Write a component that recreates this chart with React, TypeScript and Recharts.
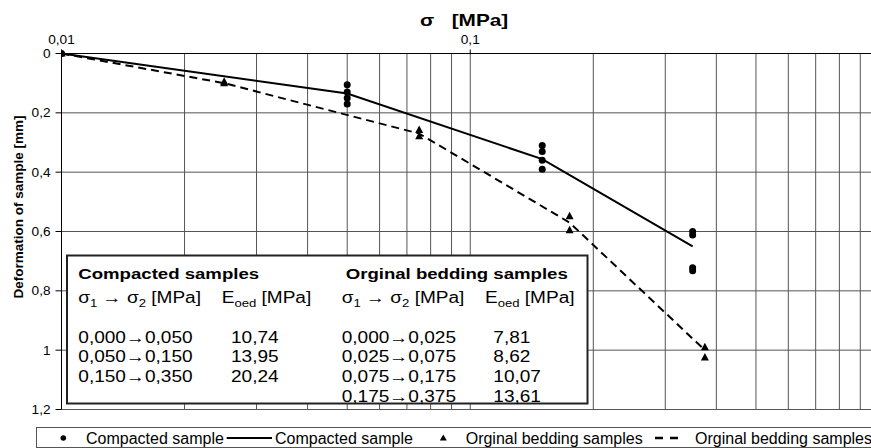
import React from 'react';
import { ScatterChart, Scatter, XAxis, YAxis, CartesianGrid } from 'recharts';

const FONT = '"Liberation Sans", Arial, Helvetica, sans-serif';

// axis ticks / grid
const xGridTicks = [0.01, 0.02, 0.03, 0.04, 0.05, 0.06, 0.07, 0.08, 0.09, 0.1, 0.2, 0.3, 0.4, 0.5, 0.6, 0.7, 0.8, 0.9, 1];
const xLabelTicks = [0.01, 0.1];
const yTicks = [0, 0.2, 0.4, 0.6, 0.8, 1, 1.2];

// compacted samples (measurements)
const compactedX = [0.01, 0.05, 0.05, 0.05, 0.05, 0.15, 0.15, 0.15, 0.15, 0.35, 0.35, 0.35, 0.35];
const compactedY = [0, 0.105, 0.13, 0.15, 0.17, 0.31, 0.33, 0.36, 0.39, 0.6, 0.612, 0.722, 0.732];
// compacted samples (line)
const compactedLineX = [0.01, 0.05, 0.15, 0.35];
const compactedLineY = [0, 0.135, 0.356, 0.65];

// original bedding samples (measurements)
const beddingX = [0.01, 0.025, 0.025, 0.075, 0.075, 0.175, 0.175, 0.375, 0.375];
const beddingY = [0, 0.095, 0.1, 0.258, 0.279, 0.549, 0.596, 0.99, 1.025];
// original bedding samples (line)
const beddingLineX = [0.01, 0.025, 0.075, 0.175, 0.375];
const beddingLineY = [0, 0.1, 0.27, 0.57, 1.0];

// inset table
const compactedRanges = ['0,000→0,050', '0,050→0,150', '0,150→0,350'];
const compactedEoed = ['10,74', '13,95', '20,24'];
const beddingRanges = ['0,000→0,025', '0,025→0,075', '0,075→0,175', '0,175→0,375'];
const beddingEoed = ['7,81', '8,62', '10,07', '13,61'];

const legendLabels = ['Compacted sample', 'Compacted sample', 'Orginal bedding samples', 'Orginal bedding samples'];

const toPts = (xs: number[], ys: number[]) => xs.map((x, i) => ({ x, y: ys[i] }));
const compactedPts = toPts(compactedX, compactedY);
const compactedLine = toPts(compactedLineX, compactedLineY);
const beddingPts = toPts(beddingX, beddingY);
const beddingLine = toPts(beddingLineX, beddingLineY);

const fmt = (v: number) => String(v).replace('.', ',');

function ST(props: any) {
  const { x, y, sx = 1, size, bold, anchor = 'start', children } = props;
  return (
    <text
      transform={`translate(${x},${y}) scale(${sx},1)`}
      fontSize={size}
      fontWeight={bold ? 'bold' : 'normal'}
      textAnchor={anchor}
      fontFamily={FONT}
      fill="#000"
    >
      {children}
    </text>
  );
}

const Dot = (p: any) => <circle cx={p.cx} cy={p.cy} r={3.5} fill="#000" />;
const Tri = (p: any) => (
  <polygon points={`${p.cx},${p.cy - 4.5} ${p.cx + 4},${p.cy + 3} ${p.cx - 4},${p.cy + 3}`} fill="#000" />
);
const NoShape = () => <g />;

const XTick = (p: any) => {
  const v = p.payload.value;
  if (!xLabelTicks.includes(v)) return <g />;
  return (
    <g>
      <line x1={p.x} x2={p.x} y1={p.y - 4} y2={p.y} stroke="#000" />
      <ST x={p.x} y={p.y - 9.3} sx={1.1} size={12.4} anchor="middle">{fmt(v)}</ST>
    </g>
  );
};

const YTick = (p: any) => (
  <ST x={p.x} y={p.y + 4.4} sx={1.1} size={12.4} anchor="end">{fmt(p.payload.value)}</ST>
);

function SigmaHeader({ x, y }: { x: number; y: number }) {
  return (
    <ST x={x} y={y} sx={1.19} size={16}>
      σ<tspan fontSize={11} dy={4}>1</tspan><tspan dy={-4}> → σ</tspan><tspan fontSize={11} dy={4}>2</tspan><tspan dy={-4}> [MPa]</tspan>
    </ST>
  );
}

function EHeader({ x, y }: { x: number; y: number }) {
  return (
    <ST x={x} y={y} sx={1.19} size={16}>
      E<tspan fontSize={11} dy={4}>oed</tspan><tspan dy={-4}> [MPa]</tspan>
    </ST>
  );
}

const rowY = [342.5, 362, 381.8, 401.6];

export default function App() {
  return (
    <div style={{ position: 'fixed', left: 0, top: 0, width: 871, height: 448, overflow: 'hidden', background: '#fff' }}>
      <ScatterChart width={882} height={448} margin={{ top: 0, right: 3, bottom: 38.5, left: 0 }}>
        <CartesianGrid stroke="#555" horizontal={true} vertical={true} />
        <XAxis
          dataKey="x"
          type="number"
          scale="log"
          domain={[0.01, 1]}
          allowDataOverflow
          orientation="top"
          height={53.5}
          ticks={xGridTicks}
          interval={0}
          tickLine={false}
          tickSize={0}
          tickMargin={0}
          tick={<XTick />}
          axisLine={{ stroke: '#000' }}
        />
        <YAxis
          dataKey="y"
          type="number"
          domain={[0, 1.2]}
          reversed
          width={61.5}
          ticks={yTicks}
          interval={0}
          tickSize={6}
          tickMargin={5}
          tickLine={{ stroke: '#000' }}
          axisLine={{ stroke: '#000' }}
          tick={<YTick />}
        />
        <Scatter name="Compacted sample line" data={compactedLine} line={{ stroke: '#000', strokeWidth: 2 }} shape={NoShape} isAnimationActive={false} />
        <Scatter name="Orginal bedding samples line" data={beddingLine} line={{ stroke: '#000', strokeWidth: 2, strokeDasharray: '8 5' }} shape={NoShape} isAnimationActive={false} />
        <Scatter name="Compacted sample" data={compactedPts} shape={Dot} isAnimationActive={false} />
        <Scatter name="Orginal bedding samples" data={beddingPts} shape={Tri} isAnimationActive={false} />
      </ScatterChart>
      <svg width={871} height={448} style={{ position: 'absolute', left: 0, top: 0, pointerEvents: 'none' }}>
        {/* title */}
        <ST x={420} y={26} sx={1.3} size={16} bold>σ</ST>
        <ST x={451.7} y={26} sx={1.3} size={16} bold>[MPa]</ST>
        {/* y label */}
        <text transform="translate(22.5,207) rotate(-90)" textAnchor="middle" fontSize={13.5} fontWeight="bold" fontFamily={FONT} fill="#000">
          Deformation of sample  [mm]
        </text>
        {/* inset table */}
        <rect x={67} y={255.5} width={520.5} height={148} fill="#fff" stroke="#222" strokeWidth={2} />
        <ST x={78.3} y={279.3} sx={1.2} size={15.5} bold>Compacted samples</ST>
        <ST x={345.7} y={279.3} sx={1.2} size={15.5} bold>Orginal bedding samples</ST>
        <SigmaHeader x={78.3} y={303} />
        <EHeader x={221.7} y={303} />
        <SigmaHeader x={341.7} y={303} />
        <EHeader x={485} y={303} />
        {compactedRanges.map((t, i) => (
          <ST key={'cr' + i} x={78.3} y={rowY[i]} sx={1.19} size={16}>{t}</ST>
        ))}
        {compactedEoed.map((t, i) => (
          <ST key={'ce' + i} x={231} y={rowY[i]} sx={1.19} size={16}>{t}</ST>
        ))}
        {beddingRanges.map((t, i) => (
          <ST key={'br' + i} x={341.7} y={rowY[i]} sx={1.19} size={16}>{t}</ST>
        ))}
        {beddingEoed.map((t, i) => (
          <ST key={'be' + i} x={493.3} y={rowY[i]} sx={1.19} size={16}>{t}</ST>
        ))}
        {/* legend */}
        <rect x={36.5} y={427.5} width={900} height={20} fill="#fff" stroke="#555" />
        <circle cx={63.3} cy={438} r={2.8} fill="#000" />
        <ST x={86} y={444} size={16}>{legendLabels[0]}</ST>
        <line x1={226.7} x2={272} y1={438} y2={438} stroke="#000" strokeWidth={2} />
        <ST x={275} y={444} size={16}>{legendLabels[1]}</ST>
        <polygon points="443.3,434.5 446.8,440.5 439.8,440.5" fill="#000" />
        <ST x={465.7} y={444} size={16}>{legendLabels[2]}</ST>
        <line x1={655} x2={681} y1={438} y2={438} stroke="#000" strokeWidth={2.5} strokeDasharray="8 7" />
        <ST x={695} y={444} size={16}>{legendLabels[3]}</ST>
      </svg>
    </div>
  );
}
